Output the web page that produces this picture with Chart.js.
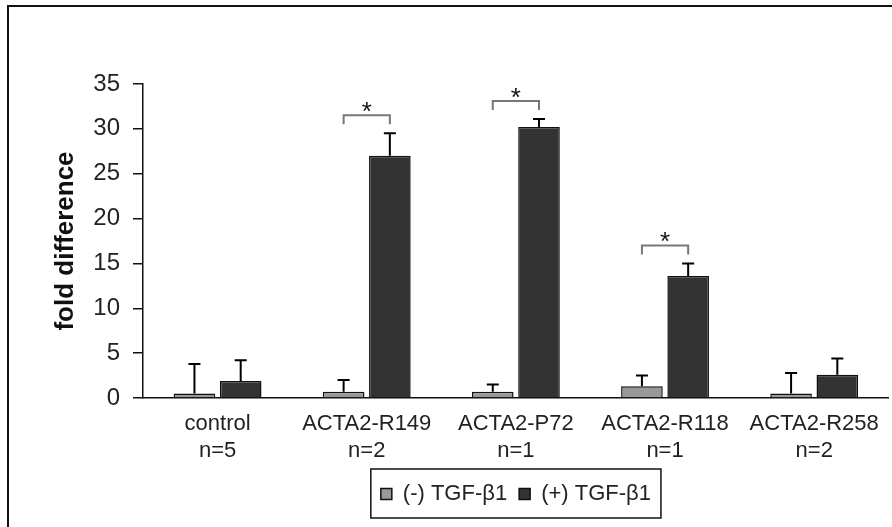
<!DOCTYPE html>
<html>
<head>
<meta charset="utf-8">
<script src="https://cdn.jsdelivr.net/npm/chart.js"></script>
<style>
  html, body { margin: 0; padding: 0; background: #fff; }
</style>
</head>
<body>
<canvas id="myChart" width="892" height="527"></canvas>
<script>
const categories = [
  ['control', 'n=5'],
  ['ACTA2-R149', 'n=2'],
  ['ACTA2-P72', 'n=1'],
  ['ACTA2-R118', 'n=1'],
  ['ACTA2-R258', 'n=2'],
];
const minusTgf = [0.5, 0.7, 0.7, 1.3, 0.5];
const minusTgfErr = [3.3, 1.3, 0.8, 1.2, 2.3];
const plusTgf = [1.9, 27.0, 30.2, 13.6, 2.6];
const plusTgfErr = [2.3, 2.5, 0.9, 1.4, 1.8];
const significant = [1, 2, 3];
const yTicks = [0, 5, 10, 15, 20, 25, 30, 35];

const FONT = "'Liberation Sans', Arial, sans-serif";
const errs = [minusTgfErr, plusTgfErr];

const background = {
  id: 'background',
  beforeDraw: (chart) => {
    const ctx = chart.ctx;
    ctx.save();
    ctx.fillStyle = '#fff';
    ctx.fillRect(0, 0, chart.width, chart.height);
    // outer frame (left + top only, like the cropped source)
    ctx.strokeStyle = '#111';
    ctx.lineWidth = 2;
    ctx.beginPath();
    ctx.moveTo(8, chart.height);
    ctx.lineTo(8, 6);
    ctx.lineTo(chart.width, 6);
    ctx.stroke();
    ctx.restore();
  },
};

const errorBars = {
  id: 'errorBars',
  afterDatasetsDraw: (chart) => {
    const ctx = chart.ctx;
    const y = chart.scales.y;
    ctx.save();
    ctx.strokeStyle = '#000';
    ctx.lineWidth = 2;
    chart.data.datasets.forEach((ds, d) => {
      const meta = chart.getDatasetMeta(d);
      meta.data.forEach((bar, i) => {
        const top = y.getPixelForValue(ds.data[i] + errs[d][i]);
        ctx.beginPath();
        ctx.moveTo(bar.x, bar.y);
        ctx.lineTo(bar.x, top);
        ctx.moveTo(bar.x - 6, top);
        ctx.lineTo(bar.x + 6, top);
        ctx.stroke();
      });
    });
    // significance brackets
    const m0 = chart.getDatasetMeta(0);
    const m1 = chart.getDatasetMeta(1);
    significant.forEach((i) => {
      const x0 = m0.data[i].x;
      const x1 = m1.data[i].x;
      const hi = Math.max(minusTgf[i] + minusTgfErr[i], plusTgf[i] + plusTgfErr[i]);
      const yb = y.getPixelForValue(hi) - 9;
      const yt = yb - 9;
      ctx.strokeStyle = '#777';
      ctx.lineWidth = 2;
      ctx.beginPath();
      ctx.moveTo(x0, yb);
      ctx.lineTo(x0, yt);
      ctx.lineTo(x1, yt);
      ctx.lineTo(x1, yb);
      ctx.stroke();
      ctx.fillStyle = '#111';
      ctx.font = '26px ' + FONT;
      ctx.textAlign = 'center';
      ctx.textBaseline = 'alphabetic';
      ctx.fillText('*', (x0 + x1) / 2, yt + 5);
    });
    ctx.restore();
  },
};

const legendFrame = {
  id: 'legendFrame',
  afterDraw: (chart) => {
    const boxes = chart.legend.legendHitBoxes;
    if (!boxes || !boxes.length) return;
    const left = Math.min(...boxes.map((b) => b.left)) - 10;
    const right = Math.max(...boxes.map((b) => b.left + b.width)) + 10;
    const top = Math.min(...boxes.map((b) => b.top)) - 14;
    const bottom = Math.max(...boxes.map((b) => b.top + b.height)) + 13;
    const ctx = chart.ctx;
    ctx.save();
    ctx.strokeStyle = '#111';
    ctx.lineWidth = 1.5;
    ctx.strokeRect(left, top, right - left, bottom - top);
    ctx.restore();
  },
};

let myChart = new Chart(document.getElementById('myChart').getContext('2d'), {
  type: 'bar',
  data: {
    labels: categories,
    datasets: [
      {
        label: '(-) TGF-\u03b21',
        data: minusTgf,
        backgroundColor: '#999999',
        borderColor: '#111',
        borderWidth: 1.5,
        categoryPercentage: 0.62,
        barPercentage: 0.9,
      },
      {
        label: '(+) TGF-\u03b21',
        data: plusTgf,
        backgroundColor: '#333333',
        borderColor: '#111',
        borderWidth: 1.5,
        categoryPercentage: 0.62,
        barPercentage: 0.9,
      },
    ],
  },
  plugins: [background, errorBars, legendFrame],
  options: {
    responsive: false,
    devicePixelRatio: 1,
    animation: false,
    layout: {
      padding: { top: 84, right: 2, left: 10, bottom: 12 },
    },
    plugins: {
      legend: {
        position: 'bottom',
        fullSize: false,
        labels: {
          font: { family: FONT, size: 22 },
          color: '#222',
          boxWidth: 11,
          boxHeight: 11,
          padding: 12,
        },
      },
      tooltip: { enabled: false },
    },
    scales: {
      x: {
        grid: { display: false, drawTicks: false },
        border: { display: true, color: '#111', width: 1.5 },
        ticks: {
          font: { family: FONT, size: 22 },
          color: '#222',
          padding: 13,
          maxRotation: 0,
          autoSkip: false,
        },
        afterFit: (scale) => {
          scale.height = 73;
        },
      },
      y: {
        min: 0,
        max: 35,
        afterBuildTicks: (scale) => {
          scale.ticks = yTicks.map((v) => ({ value: v }));
        },
        grid: {
          drawOnChartArea: false,
          drawTicks: true,
          tickLength: 10,
          color: '#111',
          lineWidth: 1.5,
        },
        border: { display: true, color: '#111', width: 1.5 },
        ticks: {
          font: { family: FONT, size: 24 },
          color: '#222',
          padding: 13,
        },
        title: {
          display: true,
          text: 'fold difference',
          font: { family: FONT, size: 26, weight: 'bold' },
          color: '#111',
          padding: { top: 40, bottom: 0 },
        },
        afterFit: (scale) => {
          scale.width = 133;
        },
      },
    },
  },
});
</script>
</body>
</html>
